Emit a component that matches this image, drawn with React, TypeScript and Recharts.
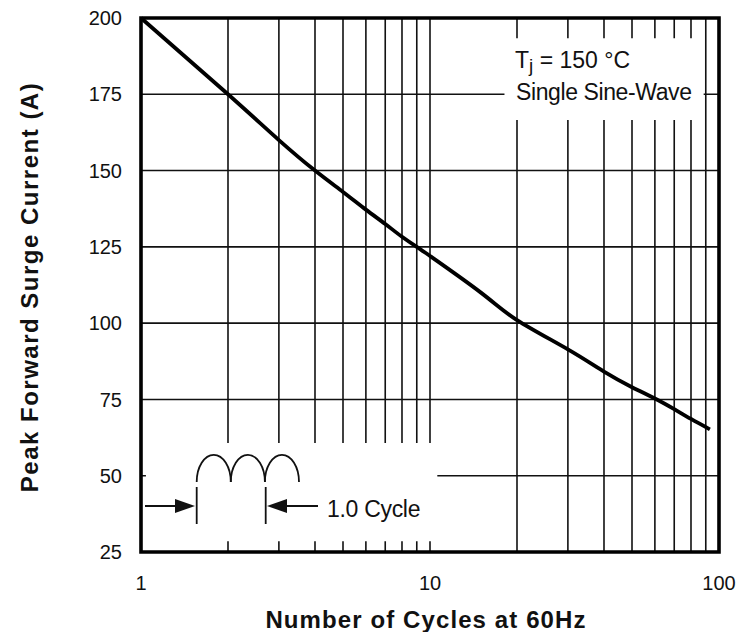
import { LineChart, Line, XAxis, YAxis, CartesianGrid, ReferenceArea } from "recharts";

// surge current vs number of cycles
const cycles = [1, 2, 3, 4, 5, 6, 7, 8, 9, 10, 15, 20, 30, 40, 50, 60, 70, 80, 93];
const current = [200, 175, 160, 150, 143, 137.2, 132.5, 128.3, 125, 122, 110, 101, 91.4, 84.1, 79, 75.3, 71.8, 68.6, 65.2];

const xTicks = [1, 2, 3, 4, 5, 6, 7, 8, 9, 10, 20, 30, 40, 50, 60, 70, 80, 90, 100];
const xLabels = [1, 10, 100];
const yTicks = [25, 50, 75, 100, 125, 150, 175, 200];

const data = cycles.map((c, i) => ({ cycles: c, current: current[i] }));

const FONT = "'Liberation Sans', Arial, Helvetica, sans-serif";
const INK = "#111";

function Overlay() {
  // drawing of the half-sine pulses and the labels
  const humps = [196.7, 230.8, 264.9];
  return (
    <svg
      width={751}
      height={632}
      style={{ position: "absolute", left: 0, top: 0, pointerEvents: "none" }}
      fontFamily={FONT}
    >
      <text
        transform="translate(38,287) rotate(-90)"
        textAnchor="middle"
        fontSize={24}
        fontWeight="bold"
        letterSpacing={1.5}
        fill={INK}
      >
        Peak Forward Surge Current (A)
      </text>
      <text x={426} y={628} textAnchor="middle" fontSize={24} fontWeight="bold" letterSpacing={1.1} fill={INK}>
        Number of Cycles at 60Hz
      </text>

      <text x={515} y={68} fontSize={23} fill={INK}>
        T<tspan fontSize={19} dy={4}>j</tspan>
        <tspan dy={-4}> = 150 °C</tspan>
      </text>
      <text x={516} y={100} fontSize={23} letterSpacing={-0.4} fill={INK}>
        Single Sine-Wave
      </text>

      {humps.map((x0) => (
        <path
          key={x0}
          d={`M${x0},482 A17,27 0 0 1 ${x0 + 34.1},482`}
          fill="none"
          stroke={INK}
          strokeWidth={1.8}
        />
      ))}
      <line x1={196.7} y1={487} x2={196.7} y2={524} stroke={INK} strokeWidth={1.8} />
      <line x1={265.7} y1={487} x2={265.7} y2={524} stroke={INK} strokeWidth={1.8} />
      <line x1={145} y1={506} x2={180} y2={506} stroke={INK} strokeWidth={1.8} />
      <polygon points="195,506 175,499 175,513" fill={INK} />
      <line x1={282} y1={506} x2={318} y2={506} stroke={INK} strokeWidth={1.8} />
      <polygon points="267,506 287,499 287,513" fill={INK} />
      <text x={327} y={517} fontSize={23} letterSpacing={-0.3} fill={INK}>
        1.0 Cycle
      </text>
    </svg>
  );
}

export default function App() {
  return (
    <div style={{ position: "absolute", left: 0, top: 0, width: 751, height: 632, background: "#fff" }}>
      <LineChart width={751} height={632} data={data} margin={{ top: 18, right: 32, bottom: 40, left: 0 }}>
        <CartesianGrid stroke={INK} strokeWidth={1.6} />
        <XAxis
          dataKey="cycles"
          type="number"
          scale="log"
          domain={[1, 100]}
          ticks={xTicks}
          interval={0}
          height={40}
          axisLine={false}
          tickLine={false}
          tickSize={6}
          tickMargin={18}
          tickFormatter={(v: number) => (xLabels.includes(v) ? String(v) : "")}
          tick={{ fontSize: 20, fill: INK, fontFamily: FONT }}
        />
        <YAxis
          type="number"
          domain={[25, 200]}
          ticks={yTicks}
          width={141}
          axisLine={false}
          tickLine={false}
          tickSize={6}
          tickMargin={13}
          tick={{ fontSize: 20, fill: INK, fontFamily: FONT }}
        />
        {/* white boxes behind the annotations */}
        <ReferenceArea x1={18.1} x2={88.5} y1={166.6} y2={193.4} fill="#fff" fillOpacity={1} stroke="none" />
        <ReferenceArea x1={1.04} x2={10.6} y1={28.5} y2={60.7} fill="#fff" fillOpacity={1} stroke="none" />
        <Line
          dataKey="current"
          type="natural"
          stroke="#000"
          strokeWidth={3.8}
          dot={false}
          isAnimationActive={false}
        />
        <ReferenceArea x1={1} x2={100} y1={25} y2={200} fill="none" stroke="#000" strokeWidth={3.6} />
      </LineChart>
      <Overlay />
    </div>
  );
}
